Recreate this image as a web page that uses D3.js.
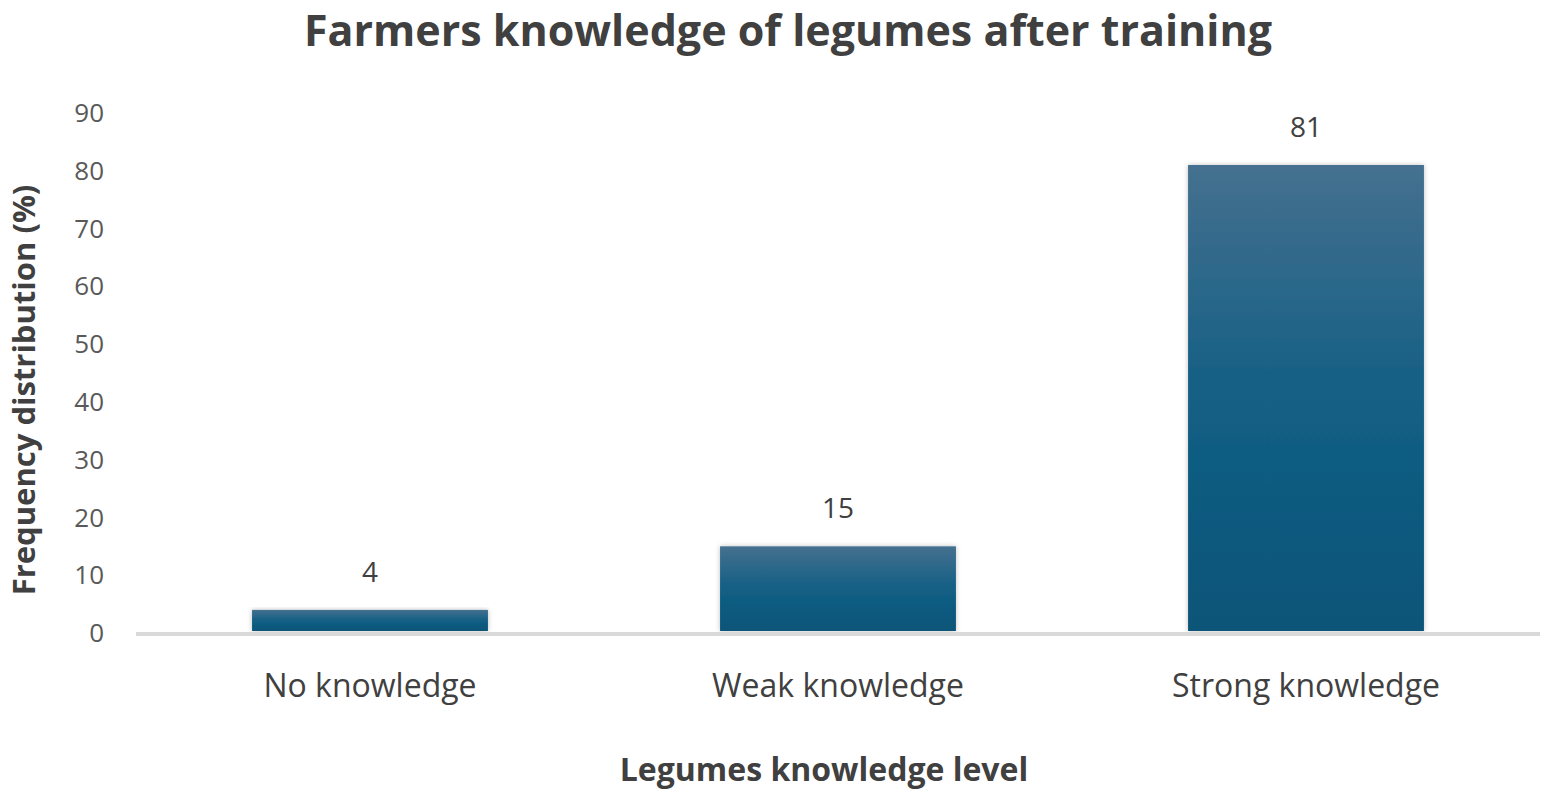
<!DOCTYPE html>
<html><head><meta charset="utf-8">
<script src="https://cdn.jsdelivr.net/npm/d3@7"></script>
<style>body{margin:0;background:#fff;} svg{display:block;font-family:"Open Sans",sans-serif;}</style>
</head><body>
<svg id="c" width="1547" height="797"></svg>
<script>
const categories = ["No knowledge", "Weak knowledge", "Strong knowledge"];
const values = [4, 15, 81];
const yTicks = [0, 10, 20, 30, 40, 50, 60, 70, 80, 90];
const title = "Farmers knowledge of legumes after training";
const xTitle = "Legumes knowledge level";
const yTitle = "Frequency distribution (%)";

const svg = d3.select("#c");
const m = {left: 136, right: 7, top: 113, bottom: 164};
const W = 1547, H = 797;
const x = d3.scaleBand().domain(categories).range([m.left, W - m.right]).paddingInner(0.496).paddingOuter(0.248);
const y = d3.scaleLinear().domain([0, 90]).range([H - m.bottom, m.top]);

const defs = svg.append("defs");
const g = defs.append("linearGradient").attr("id", "bg").attr("x1", 0).attr("y1", 0).attr("x2", 0).attr("y2", 1);
g.append("stop").attr("offset", "0%").attr("stop-color", "#45708f");
g.append("stop").attr("offset", "50%").attr("stop-color", "#135f85");
g.append("stop").attr("offset", "100%").attr("stop-color", "#0a5478");
const f = defs.append("filter").attr("id", "sh").attr("x", "-10%").attr("y", "-10%").attr("width", "120%").attr("height", "120%");
f.append("feDropShadow").attr("dx", 0).attr("dy", 0).attr("stdDeviation", 2.5).attr("flood-color", "#000").attr("flood-opacity", 0.25);

// y tick labels
svg.append("g").selectAll("text").data(yTicks).join("text")
  .attr("x", 104).attr("y", d => y(d)).attr("dy", "0.35em")
  .attr("text-anchor", "end").attr("fill", "#595959").attr("font-size", 26)
  .text(d => d);

// bars
svg.append("g").selectAll("rect").data(values).join("rect")
  .attr("x", (d, i) => x(categories[i])).attr("width", x.bandwidth())
  .attr("y", d => y(d)).attr("height", d => y(0) - y(d) - 2)
  .attr("fill", "url(#bg)").attr("filter", "url(#sh)");

// baseline
svg.append("line").attr("x1", m.left).attr("x2", W - m.right)
  .attr("y1", y(0) + 1).attr("y2", y(0) + 1).attr("stroke", "#d9d9d9").attr("stroke-width", 4);

// data labels
svg.append("g").selectAll("text").data(values).join("text")
  .attr("x", (d, i) => x(categories[i]) + x.bandwidth() / 2).attr("y", d => y(d) - 38).attr("dy", "0.35em")
  .attr("text-anchor", "middle").attr("fill", "#404040").attr("font-size", 28)
  .text(d => d);

// x labels
svg.append("g").selectAll("text").data(categories).join("text")
  .attr("x", d => x(d) + x.bandwidth() / 2).attr("y", 686).attr("dy", "0.35em")
  .attr("text-anchor", "middle").attr("fill", "#404040").attr("font-size", 32)
  .text(d => d);

// titles
svg.append("text").attr("x", 788).attr("y", 46).attr("text-anchor", "middle")
  .attr("font-size", 43).attr("font-weight", "bold").attr("fill", "#404040").text(title);
svg.append("text").attr("x", 824).attr("y", 770).attr("dy", "0.35em").attr("text-anchor", "middle")
  .attr("font-size", 32).attr("font-weight", "bold").attr("fill", "#404040").text(xTitle);
svg.append("text").attr("transform", "translate(24,390) rotate(-90)").attr("dy", "0.35em").attr("text-anchor", "middle")
  .attr("font-size", 31).attr("font-weight", "bold").attr("fill", "#404040").text(yTitle);
</script>
</body></html>
